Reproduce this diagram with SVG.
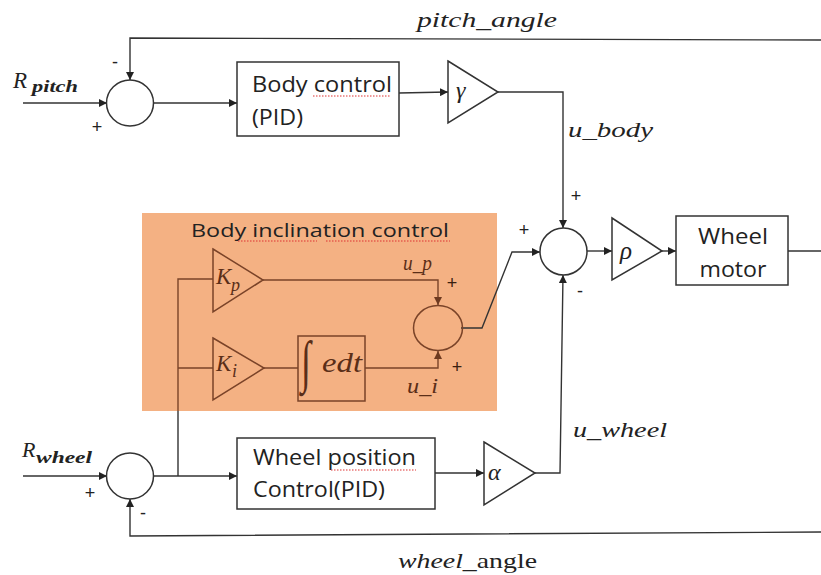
<svg xmlns="http://www.w3.org/2000/svg" width="821" height="575" viewBox="0 0 821 575">
<defs>
<marker id="ah" viewBox="0 0 10 10" refX="10" refY="5" markerWidth="8" markerHeight="8" markerUnits="userSpaceOnUse" orient="auto">
<path d="M0,0 L10,5 L0,10 Z" fill="#222"/>
</marker>
<marker id="ahb" viewBox="0 0 10 10" refX="10" refY="5" markerWidth="8" markerHeight="8" markerUnits="userSpaceOnUse" orient="auto">
<path d="M0,0 L10,5 L0,10 Z" fill="#6e3a20"/>
</marker>
<style>
.ln{fill:none;stroke:#333;stroke-width:1.4}
.lb{fill:none;stroke:#7a4328;stroke-width:1.4}
.blk{fill:#fff;stroke:#333;stroke-width:1.5}
.bblk{fill:none;stroke:#7a4328;stroke-width:1.5}
.sum{fill:#fff;stroke:#333;stroke-width:1.5}
.bsum{fill:none;stroke:#7a4328;stroke-width:1.5}
.math{font-family:"Liberation Serif","DejaVu Serif",serif;font-style:italic;fill:#222}
.bmath{font-family:"Liberation Serif","DejaVu Serif",serif;font-style:italic;fill:#5a2e18}
.txt{font-family:"Open Sans","Liberation Sans",sans-serif;fill:#222}
.sgn{font-family:"Liberation Sans",sans-serif;font-size:18px;fill:#222;text-anchor:middle}
.bsgn{font-family:"Liberation Sans",sans-serif;font-size:18px;fill:#3a2010;text-anchor:middle}
.sq{fill:none;stroke:#d33;stroke-width:1;stroke-dasharray:1.5 1.5}
</style>
</defs>
<rect width="821" height="575" fill="#fff"/>

<g id="inclination-group">
<rect x="142" y="213" width="355" height="198" fill="#F4B183"/>
<text class="txt" x="320" y="237" font-size="18" text-anchor="middle" fill="#2a1a10" textLength="258" lengthAdjust="spacingAndGlyphs">Body inclination control</text>
<path class="sq" d="M238,241 H317 M326,241 H450"/>
</g>

<g id="connectors">
<path class="ln" d="M23,103 H107" marker-end="url(#ah)"/>
<path class="ln" d="M821,40 L130,38 V80" marker-end="url(#ah)"/>
<path class="ln" d="M154,103 H237" marker-end="url(#ah)"/>
<path class="ln" d="M399,93 L448,92" marker-end="url(#ah)"/>
<path class="ln" d="M498,92 H563 V228" marker-end="url(#ah)"/>
<path class="ln" d="M461,328 H482 L512,252 H540" marker-end="url(#ah)"/>
<path class="ln" d="M587,251 H612" marker-end="url(#ah)"/>
<path class="ln" d="M662,251 H676" marker-end="url(#ah)"/>
<path class="ln" d="M788,251 H821"/>
<path class="ln" d="M535,473 H560 L563,275" marker-end="url(#ah)"/>
<path class="ln" d="M821,532 L130,536 V499" marker-end="url(#ah)"/>
<path class="ln" d="M23,476 H107" marker-end="url(#ah)"/>
<path class="ln" d="M153,476 H237" marker-end="url(#ah)"/>
<path class="ln" d="M178,476 V411"/>
<path class="ln" d="M435,473 H484" marker-end="url(#ah)"/>
<path class="lb" d="M178,411 V279 H213 M178,368 H213"/>
<path class="lb" d="M263,280 H438 V305" marker-end="url(#ahb)"/>
<path class="lb" d="M264,368 H298"/>
<path class="lb" d="M365,368 H438 V351" marker-end="url(#ahb)"/>
</g>

<g id="labels">
<text class="math" x="417" y="27" font-size="21" textLength="140" lengthAdjust="spacingAndGlyphs">pitch_angle</text>
<text class="math" x="13" y="88" font-size="23">R</text>
<text class="math" x="32" y="92" font-size="17" font-weight="bold" textLength="46" lengthAdjust="spacingAndGlyphs">pitch</text>
<text class="math" x="568" y="137" font-size="22" textLength="85" lengthAdjust="spacingAndGlyphs">u_body</text>
<text class="bmath" x="403" y="270" font-size="21" textLength="29" lengthAdjust="spacingAndGlyphs">u_p</text>
<text class="bmath" x="407" y="393" font-size="21" textLength="31" lengthAdjust="spacingAndGlyphs">u_i</text>
<text class="math" x="573" y="437" font-size="21" textLength="94" lengthAdjust="spacingAndGlyphs">u_wheel</text>
<text class="math" x="22" y="457" font-size="22">R</text>
<text class="math" x="36" y="463" font-size="16" font-weight="bold" textLength="56" lengthAdjust="spacingAndGlyphs">wheel</text>
<text x="398" y="568" font-size="21" fill="#222" font-family="Liberation Serif, DejaVu Serif, serif" textLength="139" lengthAdjust="spacingAndGlyphs"><tspan font-style="italic">wheel</tspan>_angle</text>
<text class="sgn" x="115" y="68">-</text>
<text class="sgn" x="97" y="133">+</text>
<text class="sgn" x="576" y="202">+</text>
<text class="sgn" x="524" y="236">+</text>
<text class="sgn" x="580" y="297">-</text>
<text class="bsgn" x="452" y="289">+</text>
<text class="bsgn" x="457" y="373">+</text>
<text class="sgn" x="90" y="499">+</text>
<text class="sgn" x="143" y="519">-</text>
</g>

<g id="sum-pitch"><ellipse class="sum" cx="130" cy="103" rx="23.5" ry="23"/></g>
<g id="sum-wheel"><ellipse class="sum" cx="130" cy="476" rx="23.5" ry="23"/></g>
<g id="sum-motor"><ellipse class="sum" cx="563.5" cy="251.5" rx="23.5" ry="23.5"/></g>
<g id="sum-incl"><ellipse class="bsum" cx="438" cy="328" rx="24.5" ry="22.5"/></g>

<g id="body-control">
<rect class="blk" x="237" y="62" width="162" height="74"/>
<text class="txt" x="252" y="92" font-size="21" textLength="140" lengthAdjust="spacingAndGlyphs">Body control</text>
<text class="txt" x="252" y="125" font-size="21" textLength="51" lengthAdjust="spacingAndGlyphs">(PID)</text>
<path class="sq" d="M313,96 H391"/>
</g>

<g id="gain-gamma">
<path class="blk" d="M448,61 L498,92 L448,123 Z"/>
<text class="math" x="456" y="98" font-size="24">γ</text>
</g>

<g id="gain-rho">
<path class="blk" d="M612,218 L662,251 L612,280 Z"/>
<text class="math" x="620" y="259" font-size="25">ρ</text>
</g>

<g id="wheel-motor">
<rect class="blk" x="676" y="216" width="112" height="69"/>
<text class="txt" x="733" y="244" font-size="21" text-anchor="middle" textLength="70" lengthAdjust="spacingAndGlyphs">Wheel</text>
<text class="txt" x="733" y="277" font-size="21" text-anchor="middle" textLength="67" lengthAdjust="spacingAndGlyphs">motor</text>
</g>

<g id="gain-kp">
<path class="bblk" d="M213,249 L263,280 L213,312 Z"/>
<text class="bmath" x="216" y="284" font-size="23">K</text>
<text class="bmath" x="231" y="291" font-size="18">p</text>
</g>

<g id="gain-ki">
<path class="bblk" d="M213,338 L264,368 L213,400 Z"/>
<text class="bmath" x="216" y="371" font-size="23">K</text>
<text class="bmath" x="232" y="377" font-size="18">i</text>
</g>

<g id="integrator">
<rect class="bblk" x="298" y="336" width="67" height="65"/>
<text class="bmath" x="301" y="238" font-size="36" font-style="normal" transform="scale(1,1.6)">∫</text>
<text class="bmath" x="322" y="372" font-size="27" textLength="40" lengthAdjust="spacingAndGlyphs">edt</text>
</g>

<g id="wheel-position">
<rect class="blk" x="237" y="438" width="198" height="71"/>
<text class="txt" x="253" y="465" font-size="21" textLength="163" lengthAdjust="spacingAndGlyphs">Wheel position</text>
<text class="txt" x="253" y="497" font-size="21" textLength="132" lengthAdjust="spacingAndGlyphs">Control(PID)</text>
<path class="sq" d="M331,470 H416"/>
</g>

<g id="gain-alpha">
<path class="blk" d="M484,442 L535,473 L484,505 Z"/>
<text class="math" x="488" y="480" font-size="24">α</text>
</g>
</svg>
